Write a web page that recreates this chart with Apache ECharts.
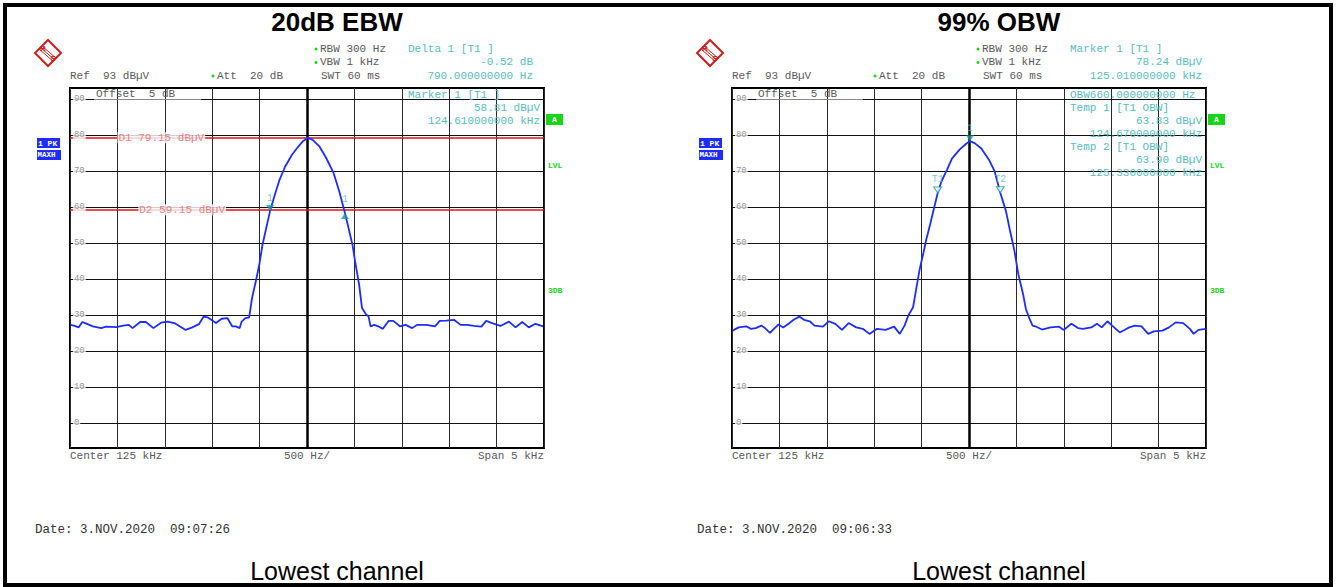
<!DOCTYPE html>
<html><head><meta charset="utf-8">
<script src="https://cdn.jsdelivr.net/npm/echarts@6/dist/echarts.min.js"></script>
<style>html,body{margin:0;padding:0;background:#fff}#c{width:1338px;height:587px}</style>
</head><body><div id="c"></div><script>
// ---------- data ----------
const titles = ['20dB EBW', '99% OBW'];
const captions = ['Lowest channel', 'Lowest channel'];
const dates = ['Date: 3.NOV.2020\u00a0\u00a009:07:26', 'Date: 3.NOV.2020\u00a0\u00a009:06:33'];
const yGridValues = [0, 10, 20, 30, 40, 50, 60, 70, 80, 90];

const leftFreq = [122.51,122.55,122.59,122.63,122.66,122.74,122.83,122.88,122.99,123.06,123.12,123.16,123.24,123.30,123.38,123.46,123.53,123.61,123.72,123.79,123.86,123.91,123.95,123.99,124.04,124.10,124.16,124.21,124.25,124.29,124.31,124.35,124.39,124.42,124.46,124.50,124.53,124.57,124.61,124.66,124.71,124.77,124.84,124.91,124.96,125.01,125.06,125.13,125.20,125.28,125.34,125.40,125.43,125.48,125.51,125.55,125.58,125.62,125.65,125.67,125.71,125.75,125.80,125.86,125.91,125.98,126.04,126.11,126.16,126.26,126.35,126.40,126.47,126.55,126.62,126.69,126.76,126.84,126.89,126.96,127.04,127.13,127.20,127.27,127.34,127.41,127.49];
const leftLevel = [27.2,26.9,26.5,28.0,27.7,26.8,26.3,26.7,26.6,27.0,27.2,26.3,28.0,28.0,26.3,27.8,28.1,27.6,25.8,26.5,27.4,29.5,29.3,28.6,27.7,28.9,29.1,26.8,26.8,26.3,28.1,29.1,29.3,34.6,39.3,44.4,49.4,54.1,58.81,63.3,67.5,71.2,74.4,76.8,78.3,79.15,78.6,76.8,73.7,69.4,64.3,58.3,55.0,49.4,44.4,38.3,31.9,30.2,29.5,26.8,27.2,26.8,26.1,28.3,28.3,26.8,27.2,26.3,27.2,27.2,26.8,28.3,28.4,28.6,27.2,27.2,26.9,26.7,28.3,27.6,26.9,28.1,26.5,28.0,26.5,27.5,26.8];

const rightFreq = [122.51,122.54,122.57,122.65,122.70,122.75,122.81,122.84,122.90,122.95,122.99,123.04,123.10,123.15,123.21,123.26,123.32,123.37,123.46,123.52,123.59,123.66,123.73,123.81,123.88,123.95,124.03,124.12,124.21,124.27,124.32,124.36,124.41,124.44,124.48,124.52,124.55,124.59,124.62,124.67,124.71,124.77,124.82,124.90,124.97,125.01,125.06,125.13,125.21,125.27,125.33,125.39,125.43,125.48,125.52,125.57,125.60,125.64,125.67,125.71,125.77,125.86,125.95,126.00,126.08,126.15,126.20,126.29,126.35,126.40,126.46,126.51,126.59,126.64,126.69,126.75,126.82,126.89,126.95,127.04,127.11,127.18,127.26,127.33,127.37,127.42,127.50];
const rightLevel = [25.6,26.1,26.5,26.8,26.1,26.3,27.0,26.5,25.0,26.3,27.3,26.5,27.6,28.6,29.5,28.6,28.2,27.0,26.7,28.2,27.5,25.8,27.7,26.5,26.1,24.7,26.1,25.8,26.7,24.7,27.0,29.8,32.1,36.7,42.7,47.3,51.0,55.1,58.4,63.83,67.1,70.4,73.4,75.9,77.5,78.24,77.7,76.2,73.1,69.9,63.9,58.8,53.7,47.7,41.3,35.8,31.6,28.8,27.0,26.7,25.9,26.5,26.7,25.8,27.5,26.3,26.1,26.5,27.5,26.5,28.2,27.0,25.1,25.8,26.5,27.0,26.8,24.7,25.4,25.6,26.5,27.9,27.7,26.1,24.7,25.8,26.1];

// display lines (left chart)
const dLineValues = [79.15, 59.15];
const dLineLabels = ['D1 79.15 dB\u00b5V', 'D2 59.15 dB\u00b5V'];
const dLabelFreq = [123.0, 123.22];

// markers: [freq, level, name, kind]
const leftMarkers = [[124.61, 58.81, '1', 'down'], [125.40, 58.29, '1', 'up']];
const rightMarkers = [[125.01, 78.24, '1', 'down'], [124.67, 63.83, 'T1', 'hollow'], [125.33, 63.90, 'T2', 'hollow']];

const headerTexts = [
  { rbw: 'RBW 300 Hz', vbw: 'VBW 1 kHz', ref: 'Ref\u00a0\u00a093 dB\u00b5V', att: 'Att\u00a0\u00a020 dB', swt: 'SWT 60 ms',
    cyan: [['Delta 1 [T1 ]', 'l'], ['-0.52 dB', 'r'], ['790.000000000 Hz', 'r']],
    inner: [['Marker 1 [T1 ]', 'l'], ['58.81 dB\u00b5V', 'r'], ['124.610000000 kHz', 'r']] },
  { rbw: 'RBW 300 Hz', vbw: 'VBW 1 kHz', ref: 'Ref\u00a0\u00a093 dB\u00b5V', att: 'Att\u00a0\u00a020 dB', swt: 'SWT 60 ms',
    cyan: [['Marker 1 [T1 ]', 'l'], ['78.24 dB\u00b5V', 'r'], ['125.010000000 kHz', 'r']],
    inner: [['OBW660.000000000 Hz', 'l'], ['Temp 1 [T1 OBW]', 'l'], ['63.83 dB\u00b5V', 'r'], ['124.670000000 kHz', 'r'], ['Temp 2 [T1 OBW]', 'l'], ['63.90 dB\u00b5V', 'r'], ['125.330000000 kHz', 'r']] }
];

// ---------- styling ----------
const MONO = '"Liberation Mono", "DejaVu Sans Mono", monospace';
const SANS = '"Liberation Sans", Arial, sans-serif';
const GRAY = '#5a5a5a';
const CYAN = '#57bcbc';
const TEAL = '#179a9a';
const GREEN = '#19d419';
const BLUE = '#1e2cff';
const PANEL_DX = 662;
const plotLeft = 70, plotTop = 88, plotW = 474, plotH = 360;

function T(x, y, text, o) {
  o = o || {};
  return { type: 'text', x: x, y: y, z: 50, silent: true,
    style: { text: text, fill: o.fill || GRAY, font: o.font || ('11px ' + MONO),
      align: o.align || 'left', verticalAlign: 'middle' } };
}

const graphics = [];
graphics.push({ type: 'rect', z: 60, shape: { x: 5, y: 5, width: 1326, height: 580 }, style: { fill: 'none', stroke: '#000', lineWidth: 4 } });

for (let p = 0; p < 2; p++) {
  const dx = p * PANEL_DX;
  const h = headerTexts[p];
  graphics.push(T(337 + dx, 22, titles[p], { font: 'bold 26px ' + SANS, fill: '#000', align: 'center' }));
  graphics.push(T(337 + dx, 571, captions[p], { font: '25px ' + SANS, fill: '#000', align: 'center' }));
  graphics.push(T(35 + dx, 530, dates[p], { font: '12.5px ' + MONO, fill: '#333' }));
  // logo
  const lx = 48 + dx, ly = 53;
  graphics.push({ type: 'polygon', z: 50, shape: { points: [[lx, ly - 13], [lx + 13, ly], [lx, ly + 13], [lx - 13, ly]] }, style: { fill: 'none', stroke: '#cc1f1f', lineWidth: 2 } });
  for (let k = -1; k <= 1; k++) {
    graphics.push({ type: 'line', z: 50, shape: { x1: lx - 7 + k * 1.5, y1: ly - 7 - k * 1.5 + 2, x2: lx + 7 + k * 1.5, y2: ly + 7 - k * 1.5 }, style: { stroke: '#cc1f1f', lineWidth: 1 } });
  }
  graphics.push(T(lx - 5, ly - 5, 'R', { font: 'bold 8px ' + SANS, fill: '#cc1f1f', align: 'center' }));
  graphics.push(T(lx + 5, ly + 5, 'S', { font: 'bold 8px ' + SANS, fill: '#cc1f1f', align: 'center' }));
  // header
  graphics.push({ type: 'circle', z: 50, shape: { cx: 316 + dx, cy: 49, r: 1.5 }, style: { fill: GREEN } });
  graphics.push(T(320 + dx, 48.5, h.rbw));
  graphics.push({ type: 'circle', z: 50, shape: { cx: 316 + dx, cy: 62.5, r: 1.5 }, style: { fill: GREEN } });
  graphics.push(T(320 + dx, 62, h.vbw));
  graphics.push(T(70 + dx, 75.5, h.ref));
  graphics.push({ type: 'circle', z: 50, shape: { cx: 213 + dx, cy: 76, r: 1.5 }, style: { fill: GREEN } });
  graphics.push(T(217 + dx, 75.5, h.att));
  graphics.push(T(321 + dx, 75.5, h.swt));
  const cyanRight = p === 0 ? 533 : 540;
  h.cyan.forEach((c, i) => {
    graphics.push(T(c[1] === 'l' ? 408 + dx : cyanRight + dx, 48.5 + i * 13.5, c[0], { fill: CYAN, align: c[1] === 'l' ? 'left' : 'right' }));
  });
  h.inner.forEach((c, i) => {
    graphics.push(T(c[1] === 'l' ? 408 + dx : 540 + dx, 95 + i * 13, c[0], { fill: CYAN, align: c[1] === 'l' ? 'left' : 'right' }));
  });
  graphics.push(T(96 + dx, 94, 'Offset\u00a0\u00a05 dB', { fill: GRAY }));
  graphics.push({ type: 'line', z: 50, shape: { x1: 94 + dx, y1: 99.5, x2: 201 + dx, y2: 99.5 }, style: { stroke: '#888', lineWidth: 1 } });
  // side annotations
  graphics.push({ type: 'rect', z: 50, shape: { x: 546 + dx, y: 114, width: 17, height: 11 }, style: { fill: GREEN } });
  graphics.push(T(554.5 + dx, 119.5, 'A', { font: 'bold 8px ' + MONO, fill: '#fff', align: 'center' }));
  graphics.push(T(548 + dx, 165, 'LVL', { font: 'bold 8px ' + MONO, fill: GREEN }));
  graphics.push(T(548 + dx, 290, '3DB', { font: 'bold 8px ' + MONO, fill: GREEN }));
  graphics.push({ type: 'rect', z: 50, shape: { x: 37 + dx, y: 138, width: 23, height: 10 }, style: { fill: BLUE } });
  graphics.push({ type: 'rect', z: 50, shape: { x: 37 + dx, y: 150, width: 24, height: 10 }, style: { fill: BLUE } });
  graphics.push(T(38 + dx, 143, '1 PK', { font: 'bold 8px ' + MONO, fill: '#fff' }));
  graphics.push(T(37.5 + dx, 155, 'MAXH', { font: 'bold 7.5px ' + MONO, fill: '#fff' }));
  // bottom axis texts
  graphics.push(T(70 + dx, 456, 'Center 125 kHz'));
  graphics.push(T(307 + dx, 456, '500 Hz/', { align: 'center' }));
  graphics.push(T(544 + dx, 456, 'Span 5 kHz', { align: 'right' }));
}

// ---------- chart ----------
const grids = [0, 1].map(p => ({ left: plotLeft + p * PANEL_DX, top: plotTop, width: plotW, height: plotH,
  show: true, borderColor: '#000', borderWidth: 2, backgroundColor: 'transparent' }));
const xAxes = [0, 1].map(p => ({ type: 'value', gridIndex: p, min: 122.5, max: 127.5, interval: 0.5,
  axisLine: { show: false }, axisTick: { show: false }, axisLabel: { show: false },
  splitLine: { show: true, lineStyle: { color: '#2a2a2a', width: 1 } } }));
const yAxes = [0, 1].map(p => ({ type: 'value', gridIndex: p, min: -7, max: 93,
  axisLine: { show: false }, axisTick: { show: false }, axisLabel: { show: false }, splitLine: { show: false } }));

const series = [];
const traces = [[leftFreq, leftLevel], [rightFreq, rightLevel]];
const markerSets = [leftMarkers, rightMarkers];
for (let p = 0; p < 2; p++) {
  // horizontal grid + centre line
  series.push({ type: 'line', xAxisIndex: p, yAxisIndex: p, data: [], z: 1, silent: true,
    markLine: { silent: true, symbol: ['none', 'none'], animation: false, z: 1, label: { show: false },
      data: yGridValues.map(v => ({ yAxis: v, lineStyle: { color: '#111', width: 1, type: 'solid' } }))
        .concat([{ xAxis: 125, lineStyle: { color: '#000', width: 2.5, type: 'solid' } }]) } });
  // y labels
  series.push({ type: 'scatter', xAxisIndex: p, yAxisIndex: p, z: 4, silent: true, symbolSize: 0, clip: false,
    data: yGridValues.map(v => [122.52, v]),
    label: { show: true, position: 'right', distance: 1, formatter: d => String(d.value[1]), color: '#777',
      fontFamily: MONO, fontSize: 9, backgroundColor: '#fff', padding: [0, 1] } });
  // trace
  series.push({ type: 'line', xAxisIndex: p, yAxisIndex: p, z: 3, showSymbol: false, silent: true, animation: false,
    data: traces[p][0].map((f, i) => [f, traces[p][1][i]]),
    lineStyle: { color: BLUE, width: 1.8 } });
  // markers
  series.push({ type: 'scatter', xAxisIndex: p, yAxisIndex: p, z: 6, silent: true, animation: false,
    data: markerSets[p].map(m => {
      const up = m[3] === 'up';
      return { value: [m[0], m[1]], name: m[2], symbol: 'triangle', symbolSize: [8, 6],
        symbolRotate: up ? 0 : 180, symbolOffset: [0, up ? 3 : -3],
        itemStyle: m[3] === 'hollow' ? { color: '#fff', borderColor: TEAL, borderWidth: 1 } : { color: TEAL },
        label: { show: true, position: 'top', distance: up ? 8 : 2, formatter: m[2], color: CYAN, fontFamily: MONO, fontSize: 10 } };
    }) });
}
// display lines D1 / D2 (left chart)
series.push({ type: 'line', xAxisIndex: 0, yAxisIndex: 0, data: [], z: 2, silent: true,
  markLine: { silent: true, symbol: ['none', 'none'], animation: false, z: 2, label: { show: false },
    data: dLineValues.map(v => ({ yAxis: v, lineStyle: { color: '#e01010', width: 1.5, type: 'solid' } })) } });
series.push({ type: 'scatter', xAxisIndex: 0, yAxisIndex: 0, z: 5, silent: true, symbolSize: 0,
  data: dLineValues.map((v, i) => ({ value: [dLabelFreq[i], v], name: dLineLabels[i] })),
  label: { show: true, position: 'right', distance: 0, formatter: d => d.name, color: '#e86060',
    fontFamily: MONO, fontSize: 11, backgroundColor: '#fff', padding: [0, 1] } });

const chart = echarts.init(document.getElementById('c'), null, { renderer: 'svg', width: 1338, height: 587 });
chart.setOption({ animation: false, backgroundColor: '#fff', grid: grids, xAxis: xAxes, yAxis: yAxes, series: series, graphic: graphics });
</script></body></html>
